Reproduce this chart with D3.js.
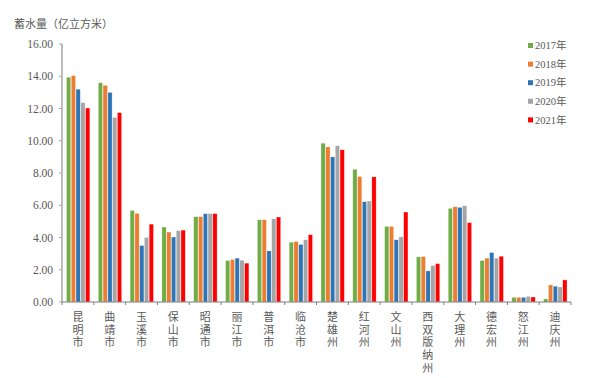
<!DOCTYPE html>
<html>
<head>
<meta charset="utf-8">
<script src="https://cdn.jsdelivr.net/npm/d3@7"></script>
<style>
  body { margin: 0; background: #fff; }
  text { font-family: "Liberation Serif", "Noto Sans CJK SC", serif; fill: #595959; }
  .cjk { font-family: "Noto Sans CJK SC", sans-serif; }
</style>
</head>
<body>
<svg id="chart" width="600" height="378"></svg>
<script>
  // cities / prefectures
  var categories = ["昆明市", "曲靖市", "玉溪市", "保山市", "昭通市", "丽江市", "普洱市", "临沧市",
    "楚雄州", "红河州", "文山州", "西双版纳州", "大理州", "德宏州", "怒江州", "迪庆州"];
  var years = ["2017年", "2018年", "2019年", "2020年", "2021年"];
  var v2017 = [13.94, 13.60, 5.68, 4.65, 5.29, 2.57, 5.10, 3.71, 9.85, 8.23, 4.69, 2.80, 5.81, 2.57, 0.29, 0.19];
  var v2018 = [14.04, 13.44, 5.50, 4.34, 5.29, 2.63, 5.10, 3.75, 9.62, 7.78, 4.69, 2.82, 5.91, 2.72, 0.29, 1.06];
  var v2019 = [13.20, 13.00, 3.50, 4.03, 5.48, 2.72, 3.17, 3.57, 9.00, 6.22, 3.86, 1.93, 5.87, 3.07, 0.29, 0.98];
  var v2020 = [12.36, 11.45, 4.00, 4.42, 5.48, 2.59, 5.16, 3.86, 9.69, 6.26, 4.04, 2.26, 5.97, 2.72, 0.35, 0.93];
  var v2021 = [12.03, 11.74, 4.83, 4.46, 5.48, 2.41, 5.27, 4.17, 9.44, 7.76, 5.58, 2.38, 4.92, 2.84, 0.31, 1.37];
  var yTicks = [0, 2, 4, 6, 8, 10, 12, 14, 16];
  var colors = ["#70AD47", "#ED7D31", "#2E75B6", "#A5A5A5", "#FF0000"];

  var series = [v2017, v2018, v2019, v2020, v2021];

  var svg = d3.select("#chart"),
    mLeft = 62, mRight = 571, mTop = 44, mBottom = 302;

  var x = d3.scaleBand().domain(categories).range([mLeft, mRight]).paddingInner(0).paddingOuter(0);
  var inner = d3.scaleBand().domain(years).range([4, x.bandwidth() - 3.5]).padding(0.1);
  var y = d3.scaleLinear().domain([0, 16]).range([mBottom, mTop]);

  // y axis
  svg.append("line")
    .attr("x1", mLeft).attr("x2", mLeft)
    .attr("y1", y(16)).attr("y2", mBottom)
    .attr("stroke", "#A6A6A6").attr("stroke-width", 1.5);

  svg.selectAll(".ytick").data(yTicks).enter().append("line")
    .attr("x1", mLeft - 3).attr("x2", mLeft)
    .attr("y1", d => y(d)).attr("y2", d => y(d))
    .attr("stroke", "#A6A6A6");

  svg.selectAll(".ylab").data(yTicks).enter().append("text")
    .attr("x", mLeft - 9).attr("y", d => y(d))
    .attr("dy", "0.35em")
    .attr("text-anchor", "end")
    .style("font-size", "11.5px")
    .text(d => d3.format(".2f")(d));

  svg.append("text")
    .attr("class", "cjk")
    .attr("x", 14).attr("y", 28)
    .style("font-size", "11px")
    .text("蓄水量（亿立方米）");

  // bars
  var group = svg.selectAll(".grp").data(categories).enter().append("g")
    .attr("transform", d => "translate(" + x(d) + ",0)");

  group.selectAll("rect")
    .data((d, i) => series.map((s, k) => ({ year: years[k], value: s[i], k: k })))
    .enter().append("rect")
    .attr("x", d => inner(d.year))
    .attr("width", inner.bandwidth())
    .attr("y", d => y(d.value))
    .attr("height", d => mBottom - y(d.value))
    .attr("fill", d => colors[d.k])
    .attr("stroke", "#fff")
    .attr("stroke-opacity", 0.6)
    .attr("stroke-width", 0.5);

  // x axis
  svg.append("line")
    .attr("x1", mLeft).attr("x2", mRight)
    .attr("y1", mBottom).attr("y2", mBottom)
    .attr("stroke", "#7F7F7F").attr("stroke-width", 1.2);

  svg.selectAll(".xtick").data(d3.range(categories.length + 1)).enter().append("line")
    .attr("x1", i => mLeft + i * x.bandwidth()).attr("x2", i => mLeft + i * x.bandwidth())
    .attr("y1", mBottom).attr("y2", mBottom + 3)
    .attr("stroke", "#7F7F7F");

  // vertical category labels
  group.append("text")
    .attr("class", "cjk")
    .attr("text-anchor", "middle")
    .style("font-size", "11px")
    .selectAll("tspan")
    .data(d => d.split(""))
    .enter().append("tspan")
    .attr("x", x.bandwidth() / 2)
    .attr("y", (c, j) => 321 + j * 12.7)
    .text(c => c);

  // legend
  var legend = svg.selectAll(".leg").data(years).enter().append("g")
    .attr("transform", (d, i) => "translate(528," + (45.5 + i * 18.6) + ")");

  legend.append("rect")
    .attr("x", 0).attr("y", -2.5)
    .attr("width", 5).attr("height", 5)
    .attr("fill", (d, i) => colors[i]);

  legend.append("text")
    .attr("x", 7).attr("dy", "0.35em")
    .style("font-size", "10.5px")
    .text(d => d);
</script>
</body>
</html>
